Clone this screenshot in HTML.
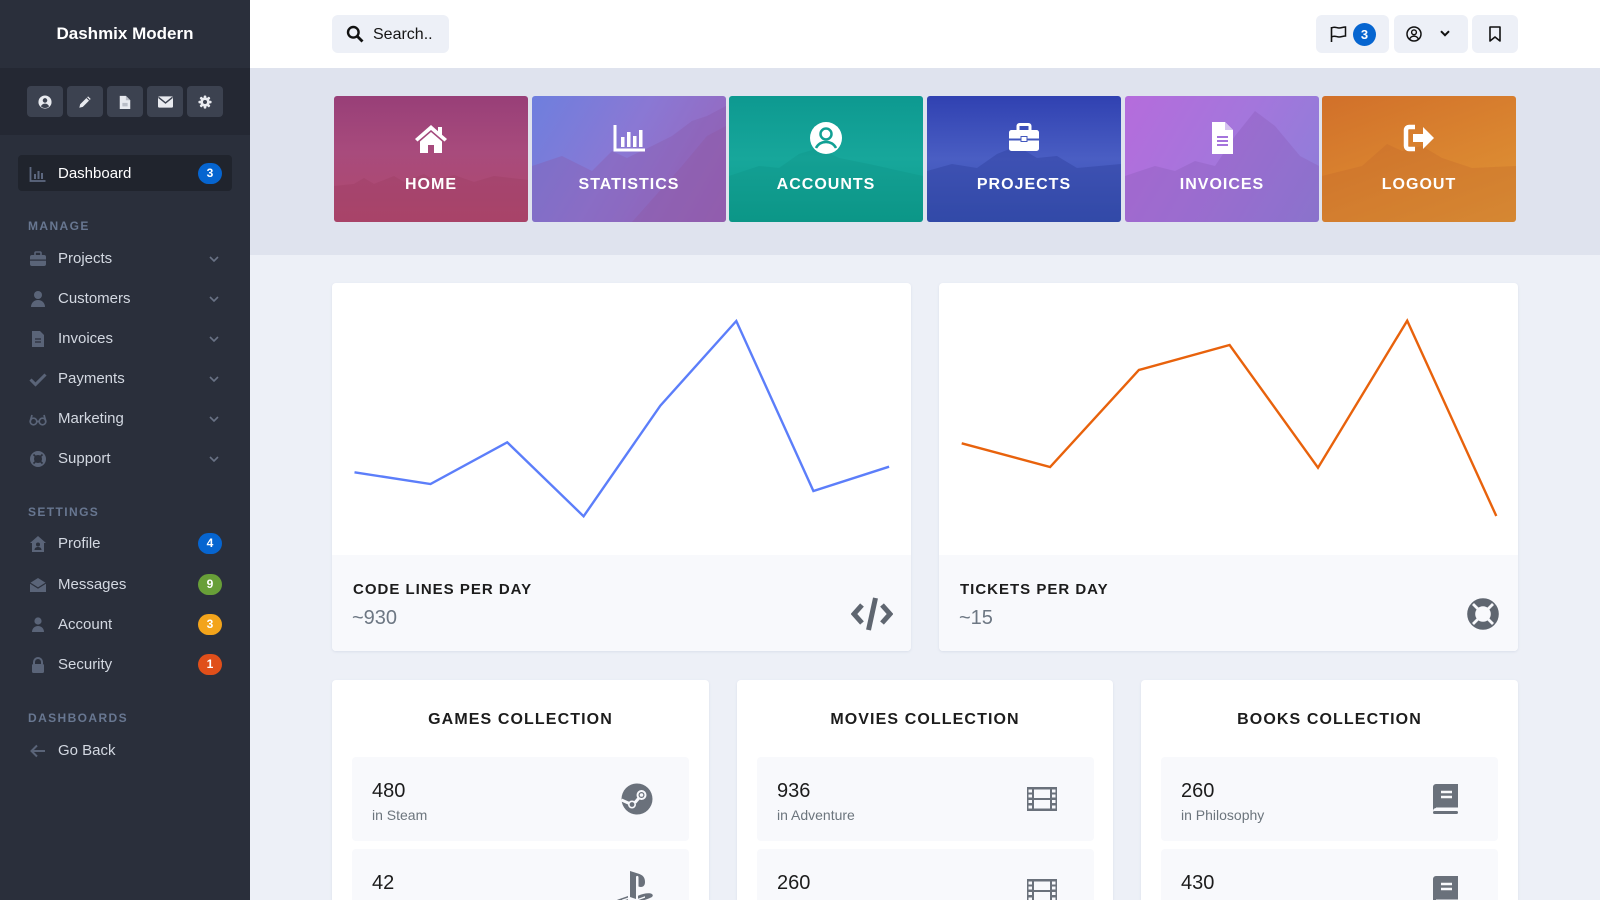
<!DOCTYPE html>
<html style="width:1600px;height:900px;overflow:hidden"><head><meta charset="utf-8">
<style>
*{margin:0;padding:0;box-sizing:border-box}
html,body{width:1600px;height:900px;overflow:hidden}
body{background:#edf0f7;font-family:"Liberation Sans",Arial,sans-serif;position:relative}
.a{position:absolute}
.sbbtn{position:absolute;top:86px;width:36px;height:31px;background:#3c4250;border-radius:4px;display:flex;align-items:center;justify-content:center}
.nav{position:absolute;left:58px;font-size:15px;color:#d3d8e1;line-height:18px}
.ico{position:absolute;left:29px;width:18px;height:18px}
.chev{position:absolute;left:209px;width:10px;height:6px}
.hd{position:absolute;left:28px;font-size:12px;font-weight:700;letter-spacing:1.4px;color:#687791;line-height:14px}
.badge{position:absolute;left:198px;width:24px;height:21px;border-radius:11px;color:#fff;font-size:12px;font-weight:700;text-align:center;line-height:21px}
.hbtn{position:absolute;top:15px;height:38px;background:#edf0f7;border-radius:6px}
.tile{position:absolute;top:96px;width:194px;height:126px;border-radius:3px;overflow:hidden}
.tl{position:absolute;left:0;width:100%;top:80px;text-align:center;color:#fff;font-weight:700;font-size:16px;letter-spacing:1px;line-height:18px}
.ti{position:absolute;left:50%;top:24px;width:36px;height:36px;margin-left:-18px}
.card{position:absolute;background:#fff;border-radius:4px;overflow:hidden;box-shadow:0 1px 2px rgba(200,208,224,.5)}
.cfoot{position:absolute;left:0;right:0;top:272px;height:96px;background:#f8f9fc}
.ct{position:absolute;left:21px;top:27px;font-size:15px;font-weight:700;letter-spacing:1px;color:#1c1c1c;line-height:16px}
.cv{position:absolute;left:20px;top:51px;font-size:20px;color:#6d7783;line-height:24px}
.colt{position:absolute;left:0;right:0;top:31px;text-align:center;font-size:16px;font-weight:700;letter-spacing:1.1px;color:#1c1c1c;line-height:18px}
.item{position:absolute;left:20px;width:337px;height:84px;background:#f8f9fc;border-radius:4px}
.num{position:absolute;left:20px;top:23px;font-size:20px;color:#1c1c1c;line-height:22px}
.sub{position:absolute;left:20px;top:50px;font-size:14px;color:#6c757d;line-height:16px}
.iic{position:absolute;left:269px;top:26px;width:32px;height:32px}
</style></head>
<body>

<!-- SIDEBAR -->
<div class="a" style="left:0;top:0;width:250px;height:900px;background:#2a2f3b"></div>
<div class="a" style="left:0;top:0;width:250px;height:68px;line-height:68px;text-align:center;color:#fff;font-weight:700;font-size:17px">Dashmix Modern</div>
<div class="a" style="left:0;top:68px;width:250px;height:67px;background:#242833"></div>

<div class="sbbtn" style="left:27px"><svg width="14" height="14" viewBox="0 0 16 16"><circle cx="8" cy="8" r="7.5" fill="#e8eaef"/><circle cx="8" cy="6.2" r="2.6" fill="#3c4250"/><path d="M3.3 12.8c1-2 2.8-3 4.7-3s3.7 1 4.7 3a6.5 6.5 0 0 1-9.4 0z" fill="#3c4250"/></svg></div>
<div class="sbbtn" style="left:67px"><svg width="14" height="14" viewBox="0 0 16 16"><path d="M11.5 1.5l3 3-9 9-4 1 1-4z" fill="#e8eaef"/><path d="M10 3l3 3" stroke="#3c4250" stroke-width="1.2"/></svg></div>
<div class="sbbtn" style="left:107px"><svg width="12" height="14" viewBox="0 0 12 16"><path d="M0 1h7l5 5v10H0z" fill="#e8eaef"/><path d="M7 1v5h5" fill="#b9bdc6"/><rect x="3" y="9" width="6" height="4" fill="#b9bdc6"/></svg></div>
<div class="sbbtn" style="left:147px"><svg width="15" height="12" viewBox="0 0 16 12"><rect x="0" y="0" width="16" height="12" rx="1.5" fill="#e8eaef"/><path d="M0.5 1l7.5 6 7.5-6" stroke="#3c4250" stroke-width="1.5" fill="none"/></svg></div>
<div class="sbbtn" style="left:187px"><svg width="14" height="14" viewBox="0 0 16 16"><g fill="#e8eaef"><circle cx="8" cy="8" r="5.3"/><rect x="6.5" y="0.5" width="3" height="15" rx="1"/><rect x="0.5" y="6.5" width="15" height="3" rx="1"/><rect x="6.5" y="0.5" width="3" height="15" rx="1" transform="rotate(45 8 8)"/><rect x="6.5" y="0.5" width="3" height="15" rx="1" transform="rotate(-45 8 8)"/></g><circle cx="8" cy="8" r="2.3" fill="#3c4250"/></svg></div>

<div class="a" style="left:18px;top:155px;width:214px;height:36px;background:#20242d;border-radius:4px"></div>
<svg class="ico" style="top:165px" viewBox="0 0 18 18"><path d="M1.5 2v14h15" stroke="#5d6880" stroke-width="1.8" fill="none"/><g fill="#5d6880"><rect x="5" y="9" width="2" height="5"/><rect x="8.5" y="6" width="2" height="8"/><rect x="12" y="8" width="2" height="6"/></g></svg>
<div class="nav" style="top:165px;color:#fff">Dashboard</div>
<div class="badge" style="top:163px;background:#0665d0">3</div>

<div class="hd" style="top:219px">MANAGE</div>

<svg class="ico" style="top:250px" viewBox="0 0 18 18"><rect x="1" y="5" width="16" height="11" rx="2" fill="#5a6478"/><rect x="6" y="2" width="6" height="4" rx="1" fill="none" stroke="#5a6478" stroke-width="1.6"/><rect x="1" y="9.5" width="16" height="1.2" fill="#2a2f3b"/></svg>
<div class="nav" style="top:250px">Projects</div>
<svg class="chev" style="top:256px" viewBox="0 0 10 6"><path d="M1 1l4 4 4-4" stroke="#697285" stroke-width="1.6" fill="none"/></svg>

<svg class="ico" style="top:290px" viewBox="0 0 18 18"><circle cx="9" cy="5" r="4" fill="#5a6478"/><path d="M2 17c0-4 3-7 7-7s7 3 7 7z" fill="#5a6478"/></svg>
<div class="nav" style="top:290px">Customers</div>
<svg class="chev" style="top:296px" viewBox="0 0 10 6"><path d="M1 1l4 4 4-4" stroke="#697285" stroke-width="1.6" fill="none"/></svg>

<svg class="ico" style="top:330px" viewBox="0 0 18 18"><path d="M3 1h8l4 4v12H3z" fill="#5a6478"/><path d="M6 9h6M6 12h6" stroke="#2a2f3b" stroke-width="1.3"/></svg>
<div class="nav" style="top:330px">Invoices</div>
<svg class="chev" style="top:336px" viewBox="0 0 10 6"><path d="M1 1l4 4 4-4" stroke="#697285" stroke-width="1.6" fill="none"/></svg>

<svg class="ico" style="top:370px" viewBox="0 0 18 18"><path d="M1.5 9.5l5 5 10-10" stroke="#5a6478" stroke-width="3" fill="none"/></svg>
<div class="nav" style="top:370px">Payments</div>
<svg class="chev" style="top:376px" viewBox="0 0 10 6"><path d="M1 1l4 4 4-4" stroke="#697285" stroke-width="1.6" fill="none"/></svg>

<svg class="ico" style="top:410px" viewBox="0 0 18 18"><g stroke="#5a6478" stroke-width="1.7" fill="none"><circle cx="4.5" cy="11.5" r="3.3"/><circle cx="13.5" cy="11.5" r="3.3"/><path d="M7.8 11.5h2.4M1.2 11.5L3 5M16.8 11.5L15 5"/></g></svg>
<div class="nav" style="top:410px">Marketing</div>
<svg class="chev" style="top:416px" viewBox="0 0 10 6"><path d="M1 1l4 4 4-4" stroke="#697285" stroke-width="1.6" fill="none"/></svg>

<svg class="ico" style="top:450px" viewBox="0 0 18 18"><circle cx="9" cy="9" r="6" fill="none" stroke="#5a6478" stroke-width="4"/><g stroke="#2a2f3b" stroke-width="1.6"><path d="M4.5 4.5l2.5 2.5M13.5 4.5L11 7M4.5 13.5L7 11M13.5 13.5L11 11"/></g></svg>
<div class="nav" style="top:450px">Support</div>
<svg class="chev" style="top:456px" viewBox="0 0 10 6"><path d="M1 1l4 4 4-4" stroke="#697285" stroke-width="1.6" fill="none"/></svg>

<div class="hd" style="top:505px">SETTINGS</div>

<svg class="ico" style="top:535px" viewBox="0 0 18 18"><path d="M9 1l8 7h-2v9H3V8H1z" fill="#5a6478"/><circle cx="9" cy="9.5" r="2" fill="#2a2f3b"/><path d="M5.5 15c0-2 1.5-3 3.5-3s3.5 1 3.5 3z" fill="#2a2f3b"/></svg>
<div class="nav" style="top:535px">Profile</div>
<div class="badge" style="top:533px;background:#0665d0">4</div>

<svg class="ico" style="top:576px" viewBox="0 0 18 18"><path d="M1 7l8-5 8 5v9H1z" fill="#5a6478"/><path d="M1 7l8 5 8-5" stroke="#2a2f3b" stroke-width="1.2" fill="none"/></svg>
<div class="nav" style="top:576px">Messages</div>
<div class="badge" style="top:574px;background:#689f38">9</div>

<svg class="ico" style="top:616px" viewBox="0 0 18 18"><circle cx="9" cy="5" r="3.6" fill="#5a6478"/><path d="M3 16c0-3.5 2.5-6 6-6s6 2.5 6 6z" fill="#5a6478"/></svg>
<div class="nav" style="top:616px">Account</div>
<div class="badge" style="top:614px;background:#f3a41b">3</div>

<svg class="ico" style="top:656px" viewBox="0 0 18 18"><path d="M5 8V6a4 4 0 0 1 8 0v2" stroke="#5a6478" stroke-width="2" fill="none"/><rect x="3" y="8" width="12" height="9" rx="1.5" fill="#5a6478"/></svg>
<div class="nav" style="top:656px">Security</div>
<div class="badge" style="top:654px;background:#e04f1a">1</div>

<div class="hd" style="top:711px">DASHBOARDS</div>

<svg class="ico" style="top:742px" viewBox="0 0 18 18"><path d="M16 9H3M8 3.5L2.5 9 8 14.5" stroke="#5a6478" stroke-width="2" fill="none"/></svg>
<div class="nav" style="top:742px">Go Back</div>

<!-- HEADER -->
<div class="a" style="left:250px;top:0;width:1350px;height:68px;background:#fff"></div>
<div class="hbtn" style="left:332px;width:117px"></div>
<svg class="a" style="left:346px;top:25px" width="18" height="18" viewBox="0 0 18 18"><circle cx="7.3" cy="7.3" r="5.3" stroke="#111" stroke-width="2.4" fill="none"/><path d="M11 11l5.5 5.5" stroke="#111" stroke-width="2.8"/></svg>
<div class="a" style="left:373px;top:26px;font-size:16px;color:#161616;line-height:18px">Search..</div>

<div class="hbtn" style="left:1316px;width:73px"></div>
<svg class="a" style="left:1330px;top:26px" width="17" height="16" viewBox="0 0 17 16"><path d="M1.5 1v15" stroke="#111" stroke-width="1.6"/><path d="M1.5 2c3-2 5 0 7.5 0s4-1 6.5-1v9c-2.5 0-4 1-6.5 1s-4.5-2-7.5 0" stroke="#111" stroke-width="1.5" fill="none"/></svg>
<div class="a" style="left:1353px;top:22.5px;width:23px;height:23px;border-radius:50%;background:#0665d0;color:#fff;font-size:13px;font-weight:700;text-align:center;line-height:23px">3</div>

<div class="hbtn" style="left:1394px;width:74px"></div>
<svg class="a" style="left:1406px;top:26px" width="16" height="16" viewBox="0 0 16 16"><circle cx="8" cy="8" r="7" stroke="#111" stroke-width="1.5" fill="none"/><circle cx="8" cy="6.3" r="2.4" stroke="#111" stroke-width="1.4" fill="none"/><path d="M3.7 12.8c1-1.8 2.5-2.6 4.3-2.6s3.3.8 4.3 2.6" stroke="#111" stroke-width="1.4" fill="none"/></svg>
<svg class="a" style="left:1440px;top:30px" width="10" height="7" viewBox="0 0 10 7"><path d="M1 1.2l4 4 4-4" stroke="#111" stroke-width="2" fill="none"/></svg>

<div class="hbtn" style="left:1472px;width:46px"></div>
<svg class="a" style="left:1489px;top:26px" width="12" height="16" viewBox="0 0 12 16"><path d="M1 1h10v14l-5-4-5 4z" stroke="#111" stroke-width="1.6" fill="none" stroke-linejoin="round"/></svg>

<!-- HERO BAND -->
<div class="a" style="left:250px;top:68px;width:1350px;height:187px;background:#dfe3ee"></div>

<div class="tile" style="left:334px;background:linear-gradient(180deg,#983f78 0%,#a84b7c 45%,#b0486c 100%)">
  <svg class="a" style="left:0;top:70px" width="194" height="56" viewBox="0 0 194 56"><path d="M0 20 L20 18 L30 12 L40 18 L60 10 L70 16 L90 8 L100 14 L120 9 L140 16 L160 10 L194 14 V56 H0z" fill="#9c3d62" opacity=".35"/></svg>
  <svg class="ti" viewBox="0 0 36 36"><path d="M18 5L2 19l2.5 2.5L18 10l13.5 11.5L34 19l-5-4.3V7h-4v4.3z" fill="#fff"/><path d="M7 21.5L18 12l11 9.5V33h-8v-8h-6v8H7z" fill="#fff"/></svg>
  <div class="tl">HOME</div>
</div>

<div class="tile" style="left:532px;background:linear-gradient(120deg,#6e7fde 0%,#8a78d4 45%,#9a63b8 100%)">
  <svg class="a" style="left:0;top:0" width="194" height="126" viewBox="0 0 194 126"><path d="M0 70 L30 60 L60 75 L80 55 L95 62 L120 50 L140 40 L160 25 L175 20 L194 10 V126 H0z" fill="#8a5aa8" opacity=".35"/><path d="M100 126 L150 70 L175 40 L194 30 V126z" fill="#8e5ba6" opacity=".4"/></svg>
  <svg class="ti" viewBox="0 0 36 36"><path d="M4 5v25h30" stroke="#fff" stroke-width="3" fill="none"/><g fill="#fff"><rect x="10" y="17" width="3.5" height="10"/><rect x="16" y="12" width="3.5" height="15"/><rect x="22" y="16" width="3.5" height="11"/><rect x="28" y="10" width="3.5" height="17"/></g></svg>
  <div class="tl">STATISTICS</div>
</div>

<div class="tile" style="left:729px;background:linear-gradient(180deg,#0d9990 0%,#17a79b 50%,#0c9a8a 100%)">
  <svg class="a" style="left:0;top:0" width="194" height="126" viewBox="0 0 194 126"><path d="M0 80 L30 70 L50 72 L70 58 L90 52 L110 62 L140 68 L194 80 V126 H0z" fill="#0a8c80" opacity=".25"/></svg>
  <svg class="ti" viewBox="0 0 36 36"><circle cx="18" cy="18" r="16" fill="#fff"/><circle cx="18" cy="14" r="5.5" fill="none" stroke="#11a094" stroke-width="2.5"/><path d="M8 28c2-4 5.5-6 10-6s8 2 10 6" fill="none" stroke="#11a094" stroke-width="2.5"/></svg>
  <div class="tl">ACCOUNTS</div>
</div>

<div class="tile" style="left:927px;background:linear-gradient(180deg,#3041b1 0%,#4a5ec3 50%,#3551b0 100%)">
  <svg class="a" style="left:0;top:0" width="194" height="126" viewBox="0 0 194 126"><path d="M0 75 L25 68 L50 72 L70 58 L90 50 L110 62 L130 60 L150 72 L194 68 V126 H0z" fill="#2e3f9c" opacity=".4"/></svg>
  <svg class="ti" viewBox="0 0 36 36"><rect x="3" y="10" width="30" height="21" rx="2.5" fill="#fff"/><rect x="12" y="4.5" width="12" height="7" rx="1.5" fill="none" stroke="#fff" stroke-width="3"/><rect x="3" y="18.5" width="30" height="2" fill="#4257be"/><rect x="15" y="16.5" width="6" height="5" fill="#fff" stroke="#4257be" stroke-width="1"/></svg>
  <div class="tl">PROJECTS</div>
</div>

<div class="tile" style="left:1125px;background:linear-gradient(120deg,#b56cdc 0%,#a476dc 50%,#8b7fd8 100%)">
  <svg class="a" style="left:0;top:0" width="194" height="126" viewBox="0 0 194 126"><path d="M0 80 L30 70 L50 75 L70 65 L90 70 L110 40 L130 15 L150 30 L175 60 L194 70 V126 H0z" fill="#8a5cb8" opacity=".35"/></svg>
  <svg class="ti" viewBox="0 0 36 36"><path d="M8 2h13l8 8v24H8z" fill="#fff"/><path d="M21 2v8h8" fill="#d6c2f0"/><g stroke="#a574dc" stroke-width="2"><path d="M13 17h11M13 21h11M13 25h11"/></g></svg>
  <div class="tl">INVOICES</div>
</div>

<div class="tile" style="left:1322px;background:linear-gradient(160deg,#d1702a 0%,#da8530 55%,#df9636 100%)">
  <svg class="a" style="left:0;top:0" width="194" height="126" viewBox="0 0 194 126"><path d="M0 80 L40 70 L65 48 L80 55 L100 50 L120 62 L150 72 L194 70 V126 H0z" fill="#c0682a" opacity=".3"/></svg>
  <svg class="ti" viewBox="0 0 36 36"><path d="M14 7H8a3 3 0 0 0-3 3v16a3 3 0 0 0 3 3h6" stroke="#fff" stroke-width="4.5" fill="none"/><path d="M12 14h10V7l11 11-11 11v-7H12z" fill="#fff"/></svg>
  <div class="tl">LOGOUT</div>
</div>

<!-- CHART CARDS -->
<div class="card" style="left:332px;top:283px;width:579px;height:368px">
  <div class="cfoot">
    <div class="ct">CODE LINES PER DAY</div>
    <div class="cv">~930</div>
    <svg class="a" style="left:519px;top:41px" width="42" height="36" viewBox="0 0 42 36"><g stroke="#5f6670" stroke-width="5" fill="none" stroke-linejoin="miter"><path d="M11 9l-8 9 8 9"/><path d="M31 9l8 9-8 9"/><path d="M24.5 2L17.5 34"/></g></svg>
  </div>
</div>
<div class="card" style="left:939px;top:283px;width:579px;height:368px">
  <div class="cfoot">
    <div class="ct">TICKETS PER DAY</div>
    <div class="cv">~15</div>
    <svg class="a" style="left:528px;top:43px" width="32" height="32" viewBox="0 0 32 32"><circle cx="16" cy="16" r="11.8" fill="none" stroke="#5f6670" stroke-width="8"/><g stroke="#f8f9fc" stroke-width="2.8"><path d="M6 6l6 6M26 6l-6 6M6 26l6-6M26 26l-6-6"/></g></svg>
  </div>
</div>

<svg class="a" style="left:0;top:0" width="1600" height="900" viewBox="0 0 1600 900">
  <polyline points="354.5,472.3 430.5,484 507.2,442.3 583.6,516.3 660.3,405.7 736.3,321 813.4,491 889.1,466.7" fill="none" stroke="#5c7efa" stroke-width="2.4" stroke-linejoin="miter"/>
  <polyline points="961.7,443.3 1050.1,467 1138.9,370 1229.6,345 1318,467.7 1407.2,320.7 1496.3,516" fill="none" stroke="#e8620c" stroke-width="2.4" stroke-linejoin="miter"/>
</svg>

<!-- COLLECTIONS -->
<div class="card" style="left:332px;top:680px;width:377px;height:220px;border-radius:4px 4px 0 0">
  <div class="colt">GAMES COLLECTION</div>
  <div class="item" style="top:77px">
    <div class="num">480</div><div class="sub">in Steam</div>
    <svg class="iic" viewBox="0 0 32 32"><circle cx="16" cy="16" r="15.5" fill="#6a717b"/><circle cx="20.5" cy="12" r="5" fill="#f8f9fc"/><circle cx="20.5" cy="12" r="3" fill="#6a717b"/><circle cx="20.5" cy="12" r="1.8" fill="#f8f9fc"/><path d="M0.5 17l9 4" stroke="#f8f9fc" stroke-width="3"/><circle cx="11" cy="21.5" r="3.2" fill="#6a717b" stroke="#f8f9fc" stroke-width="1.6"/><path d="M14 19.5l3.5-4" stroke="#f8f9fc" stroke-width="3"/></svg>
  </div>
  <div class="item" style="top:169px">
    <div class="num">42</div><div class="sub">in PlayStation</div>
    <svg class="iic" style="left:262px;top:20px;width:42px;height:42px" viewBox="0 0 42 42"><path d="M16 2l8 2.5c5 1.5 7 4 7 8.5 0 4-2.5 6-6.5 4.5V8.5c0-1-.5-1.6-1.3-1.6s-1.2.6-1.2 1.6V30L16 28z" fill="#6a717b"/><path d="M14 27l-10 3.5c-3 1.2-2.5 3.2 1 3.8 3 .5 6 0 9-1.2v-3l-6 2v-1.5l6-2z" fill="#6a717b"/><path d="M24 33c5-1.5 10-3 13-4.5 3-1.5 2-3.8-1.5-4.2-3-.3-7 .6-11.5 2.4v3l7-2.5v1.5l-7 2.5z" fill="#6a717b"/></svg>
  </div>
</div>

<div class="card" style="left:737px;top:680px;width:376px;height:220px;border-radius:4px 4px 0 0">
  <div class="colt">MOVIES COLLECTION</div>
  <div class="item" style="top:77px">
    <div class="num">936</div><div class="sub">in Adventure</div>
    <svg class="iic" viewBox="0 0 32 32"><rect x="1" y="4" width="30" height="24" fill="#6a717b"/><g fill="#f8f9fc"><rect x="8" y="6.5" width="16" height="8.5"/><rect x="8" y="17" width="16" height="8.5"/><rect x="2.5" y="6.5" width="3.5" height="3"/><rect x="2.5" y="11.5" width="3.5" height="3"/><rect x="2.5" y="17" width="3.5" height="3"/><rect x="2.5" y="22.5" width="3.5" height="3"/><rect x="26" y="6.5" width="3.5" height="3"/><rect x="26" y="11.5" width="3.5" height="3"/><rect x="26" y="17" width="3.5" height="3"/><rect x="26" y="22.5" width="3.5" height="3"/></g></svg>
  </div>
  <div class="item" style="top:169px">
    <div class="num">260</div><div class="sub">in Action</div>
    <svg class="iic" viewBox="0 0 32 32"><rect x="1" y="4" width="30" height="24" fill="#6a717b"/><g fill="#f8f9fc"><rect x="8" y="6.5" width="16" height="8.5"/><rect x="8" y="17" width="16" height="8.5"/><rect x="2.5" y="6.5" width="3.5" height="3"/><rect x="2.5" y="11.5" width="3.5" height="3"/><rect x="2.5" y="17" width="3.5" height="3"/><rect x="2.5" y="22.5" width="3.5" height="3"/><rect x="26" y="6.5" width="3.5" height="3"/><rect x="26" y="11.5" width="3.5" height="3"/><rect x="26" y="17" width="3.5" height="3"/><rect x="26" y="22.5" width="3.5" height="3"/></g></svg>
  </div>
</div>

<div class="card" style="left:1141px;top:680px;width:377px;height:220px;border-radius:4px 4px 0 0">
  <div class="colt">BOOKS COLLECTION</div>
  <div class="item" style="top:77px">
    <div class="num">260</div><div class="sub">in Philosophy</div>
    <svg class="iic" viewBox="0 0 32 32"><path d="M3 4a3 3 0 0 1 3-3h22v24H6a3 3 0 0 0 0 6h22v0H6a3 3 0 0 1-3-3z" fill="#6a717b"/><rect x="6" y="24.5" width="22" height="3.5" fill="#f8f9fc"/><path d="M11 9h11M11 14h11" stroke="#f8f9fc" stroke-width="2.4"/><rect x="3" y="28" width="25" height="3" rx="1.5" fill="#6a717b"/></svg>
  </div>
  <div class="item" style="top:169px">
    <div class="num">430</div><div class="sub">in Fiction</div>
    <svg class="iic" viewBox="0 0 32 32"><path d="M3 4a3 3 0 0 1 3-3h22v24H6a3 3 0 0 0 0 6h22v0H6a3 3 0 0 1-3-3z" fill="#6a717b"/><rect x="6" y="24.5" width="22" height="3.5" fill="#f8f9fc"/><path d="M11 9h11M11 14h11" stroke="#f8f9fc" stroke-width="2.4"/><rect x="3" y="28" width="25" height="3" rx="1.5" fill="#6a717b"/></svg>
  </div>
</div>

</body></html>
